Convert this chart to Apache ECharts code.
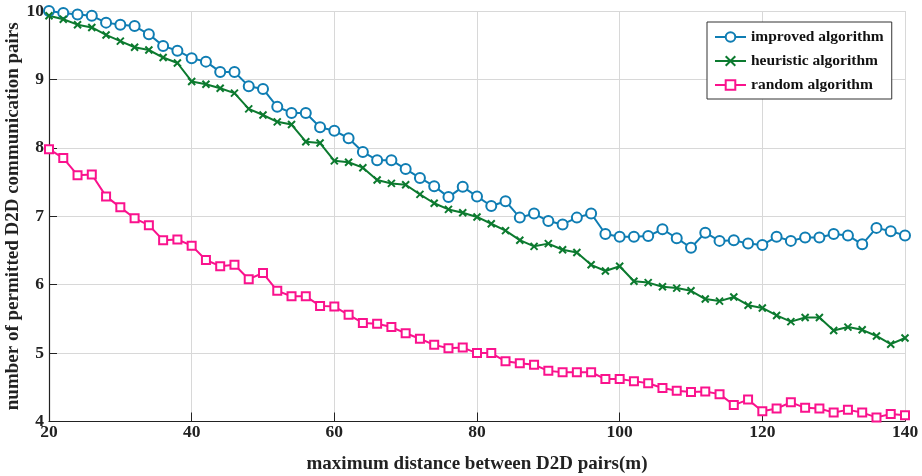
<!DOCTYPE html>
<html>
<head>
<meta charset="utf-8">
<script src="https://cdn.jsdelivr.net/npm/echarts@6/dist/echarts.min.js"></script>
<style>
html,body{margin:0;padding:0;background:#fff;}
#chart{width:922px;height:476px;}
</style>
</head>
<body>
<div id="chart"></div>
<script>
const xValues = [20,22,24,26,28,30,32,34,36,38,40,42,44,46,48,50,52,54,56,58,60,62,64,66,68,70,72,74,76,78,80,82,84,86,88,90,92,94,96,98,100,102,104,106,108,110,112,114,116,118,120,122,124,126,128,130,132,134,136,138,140];
const improved = [10.00,9.97,9.95,9.93,9.83,9.80,9.78,9.66,9.49,9.42,9.31,9.26,9.11,9.11,8.90,8.86,
  8.60,8.51,8.51,8.30,8.25,8.14,7.94,7.82,7.82,7.69,7.56,7.44,7.28,7.43,7.29,7.15,
  7.22,6.98,7.04,6.93,6.88,6.98,7.04,6.74,6.70,6.70,6.71,6.81,6.68,6.54,6.76,
  6.64,6.65,6.60,6.58,6.70,6.64,6.69,6.69,6.74,6.72,6.59,6.83,6.78,6.72];
const heuristic = [9.93,9.88,9.80,9.76,9.65,9.56,9.47,9.43,9.32,9.24,8.97,8.93,8.87,8.80,8.57,8.48,
  8.38,8.34,8.09,8.07,7.81,7.79,7.71,7.53,7.48,7.46,7.32,7.19,7.10,7.05,6.99,6.89,
  6.79,6.65,6.56,6.60,6.51,6.47,6.29,6.20,6.27,6.05,6.03,5.97,5.95,5.91,5.79,
  5.76,5.82,5.70,5.66,5.55,5.46,5.52,5.52,5.33,5.38,5.34,5.25,5.13,5.22];
const random = [7.98,7.85,7.60,7.61,7.29,7.13,6.97,6.87,6.65,6.66,6.57,6.36,6.27,6.29,6.08,6.17,
  5.91,5.83,5.83,5.69,5.68,5.56,5.44,5.43,5.38,5.29,5.21,5.12,5.07,5.08,5.00,5.00,
  4.88,4.85,4.83,4.74,4.72,4.72,4.72,4.62,4.62,4.59,4.56,4.49,4.45,4.43,4.44,
  4.40,4.24,4.32,4.15,4.19,4.28,4.20,4.19,4.13,4.17,4.13,4.06,4.11,4.09];
const seriesNames = ['improved algorithm','heuristic algorithm','random algorithm'];
const xTitle = 'maximum distance between D2D pairs(m)';
const yTitle = 'number of permitted D2D communication pairs';

const FONT = '"Liberation Serif", "Times New Roman", serif';
const pair = arr => xValues.map((x, i) => [x, arr[i]]);
const crossPath = 'path://M0,0L10,10M10,0L0,10';

const chart = echarts.init(document.getElementById('chart'), null, {renderer: 'canvas'});
chart.setOption({
  backgroundColor: '#fff',
  animation: false,
  grid: {left: 49, right: 17, top: 11, bottom: 54.5, containLabel: false, outerBoundsMode: 'none'},
  legend: {
    orient: 'vertical',
    left: 707, top: 22,
    padding: [7, 8, 6, 7],
    itemWidth: 31, itemHeight: 12, itemGap: 8,
    borderColor: '#333', borderWidth: 1, backgroundColor: '#fff',
    textStyle: {fontFamily: FONT, fontWeight: 'bold', fontSize: 15.5, color: '#111', lineHeight: 16},
    data: seriesNames
  },
  xAxis: {
    type: 'value', min: 20, max: 140, interval: 20,
    name: xTitle, nameLocation: 'middle', nameGap: 33, nameMoveOverlap: false,
    nameTextStyle: {fontFamily: FONT, fontWeight: 'bold', fontSize: 19, color: '#222'},
    axisLine: {show: true, onZero: false, lineStyle: {color: '#222', width: 1.2}},
    axisTick: {show: true, inside: true, length: 9, lineStyle: {color: '#222'}},
    axisLabel: {fontFamily: FONT, fontWeight: 'bold', fontSize: 17.5, color: '#222', margin: 2},
    splitLine: {show: true, lineStyle: {color: '#d8d8d8', width: 1}}
  },
  yAxis: {
    type: 'value', min: 4, max: 10, interval: 1,
    name: yTitle, nameLocation: 'middle', nameGap: 26, nameRotate: 90, nameMoveOverlap: false,
    nameTextStyle: {fontFamily: FONT, fontWeight: 'bold', fontSize: 19, color: '#222'},
    axisLine: {show: true, onZero: false, lineStyle: {color: '#222', width: 1.2}},
    axisTick: {show: true, inside: true, length: 8, lineStyle: {color: '#222'}},
    axisLabel: {fontFamily: FONT, fontWeight: 'bold', fontSize: 17.5, color: '#222', margin: 5},
    splitLine: {show: true, lineStyle: {color: '#d8d8d8', width: 1}}
  },
  series: [
    {
      name: seriesNames[0], type: 'line', data: pair(improved),
      symbol: 'emptyCircle', symbolSize: 10,
      lineStyle: {color: '#0f7db3', width: 2},
      itemStyle: {color: '#0f7db3', borderColor: '#0f7db3', borderWidth: 2}
    },
    {
      name: seriesNames[1], type: 'line', data: pair(heuristic),
      symbol: crossPath, symbolSize: 7,
      lineStyle: {color: '#0c7a2f', width: 2},
      itemStyle: {color: '#0c7a2f', borderColor: '#0c7a2f', borderWidth: 2}
    },
    {
      name: seriesNames[2], type: 'line', data: pair(random),
      symbol: 'emptyRect', symbolSize: 8,
      lineStyle: {color: '#fa128d', width: 2},
      itemStyle: {color: '#fa128d', borderColor: '#fa128d', borderWidth: 2}
    }
  ]
});
</script>
</body>
</html>
